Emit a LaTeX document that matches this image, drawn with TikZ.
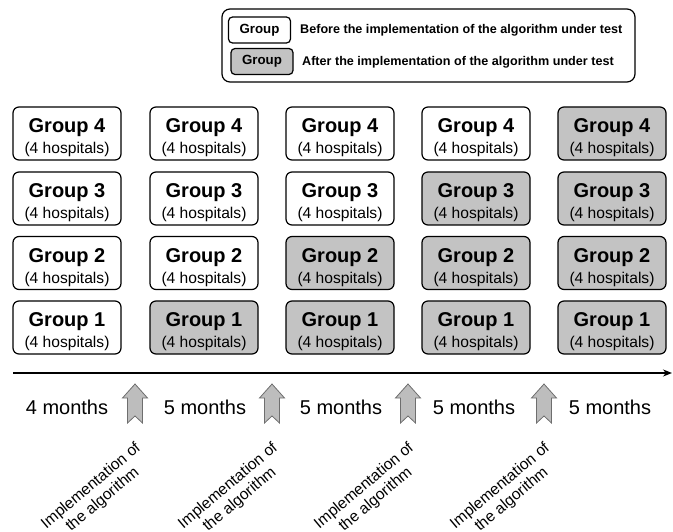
\documentclass[tikz,border=0pt]{standalone}
\usepackage{fontspec}
\setmainfont{Liberation Sans}
\usetikzlibrary{arrows.meta}
\definecolor{boxgrey}{HTML}{C3C3C3}
\definecolor{arrowgrey}{HTML}{BDBDBD}
\definecolor{arrowedge}{HTML}{6E6E6E}
\begin{document}
\begin{tikzpicture}[x=1pt,y=-1pt,
  grp/.style={draw=black, line width=1.2pt, rounded corners=6pt, minimum width=108pt, minimum height=53pt, align=center, inner sep=0pt, font=\fontsize{15.6}{21}\selectfont},
  before/.style={grp, fill=white},
  after/.style={grp, fill=boxgrey},
  legbox/.style={draw=black, line width=1.2pt, rounded corners=4pt, minimum width=62pt, minimum height=26pt, inner sep=0pt, font=\fontsize{13.3}{15}\selectfont\bfseries},
  legtext/.style={anchor=west, inner sep=0pt, font=\fontsize{12.6}{14}\selectfont\bfseries},
  months/.style={font=\fontsize{20}{22}\selectfont, inner sep=0pt},
  impl/.style={rotate=40, align=center, inner sep=0pt, font=\fontsize{15.6}{18}\selectfont},
  blockarrow/.style={fill=arrowgrey, draw=arrowedge, line width=0.8pt, line join=miter}
]
\useasboundingbox (0,0) rectangle (673,532);
\clip (0,0) rectangle (673,532);

% legend
\node[draw=black, line width=1.2pt, rounded corners=8pt, minimum width=413pt, minimum height=73pt, inner sep=0pt] (legend) at (428.5,45.5) {};
\node[legbox, fill=white] (legB) at (259.5,30) {Group};
\node[legbox, fill=boxgrey] (legA) at (262,61.5) {Group};
\node[legtext] (legBt) at (300,30) {Before the implementation of the algorithm under test};
\node[legtext] (legAt) at (302,62) {After the implementation of the algorithm under test};

% groups
\newcommand{\grptext}[1]{{\fontsize{20}{21}\selectfont\bfseries\rule{0pt}{22.5pt}Group #1}\\(4 hospitals)}
\foreach \c/\x in {1/67,2/204,3/340,4/476,5/612}{
  \foreach \r/\y in {4/133.5,3/198.5,2/263,1/327.5}{
    \pgfmathtruncatemacro{\isafter}{\r<\c ? 1 : 0}
    \ifnum\isafter=1
      \node[after] (g\c\r) at (\x,\y) {\grptext{\r}};
    \else
      \node[before] (g\c\r) at (\x,\y) {\grptext{\r}};
    \fi
  }
}

% timeline
\coordinate (tl0) at (13,373);
\coordinate (tl1) at (672,373);
\draw[line width=1.5pt, -{Stealth[length=9pt,width=7pt]}] (tl0) -- (tl1);

% month labels
\node[months] (m1) at (67,407) {4 months};
\node[months] (m2) at (205,407) {5 months};
\node[months] (m3) at (341,407) {5 months};
\node[months] (m4) at (474,407) {5 months};
\node[months] (m5) at (610,407) {5 months};

% block arrows and implementation labels
\foreach \i/\X in {1/135,2/272,3/408,4/544}{
  \draw[blockarrow] (\X,384) -- (\X+12.5,398) -- (\X+7.5,398) -- (\X+7.5,423) -- (\X,416) -- (\X-7.5,423) -- (\X-7.5,398) -- (\X-12.5,398) -- cycle;
  \node[impl] (impl\i) at (\X-38,493) {Implementation of\\the algorithm};
}
\end{tikzpicture}
\end{document}
